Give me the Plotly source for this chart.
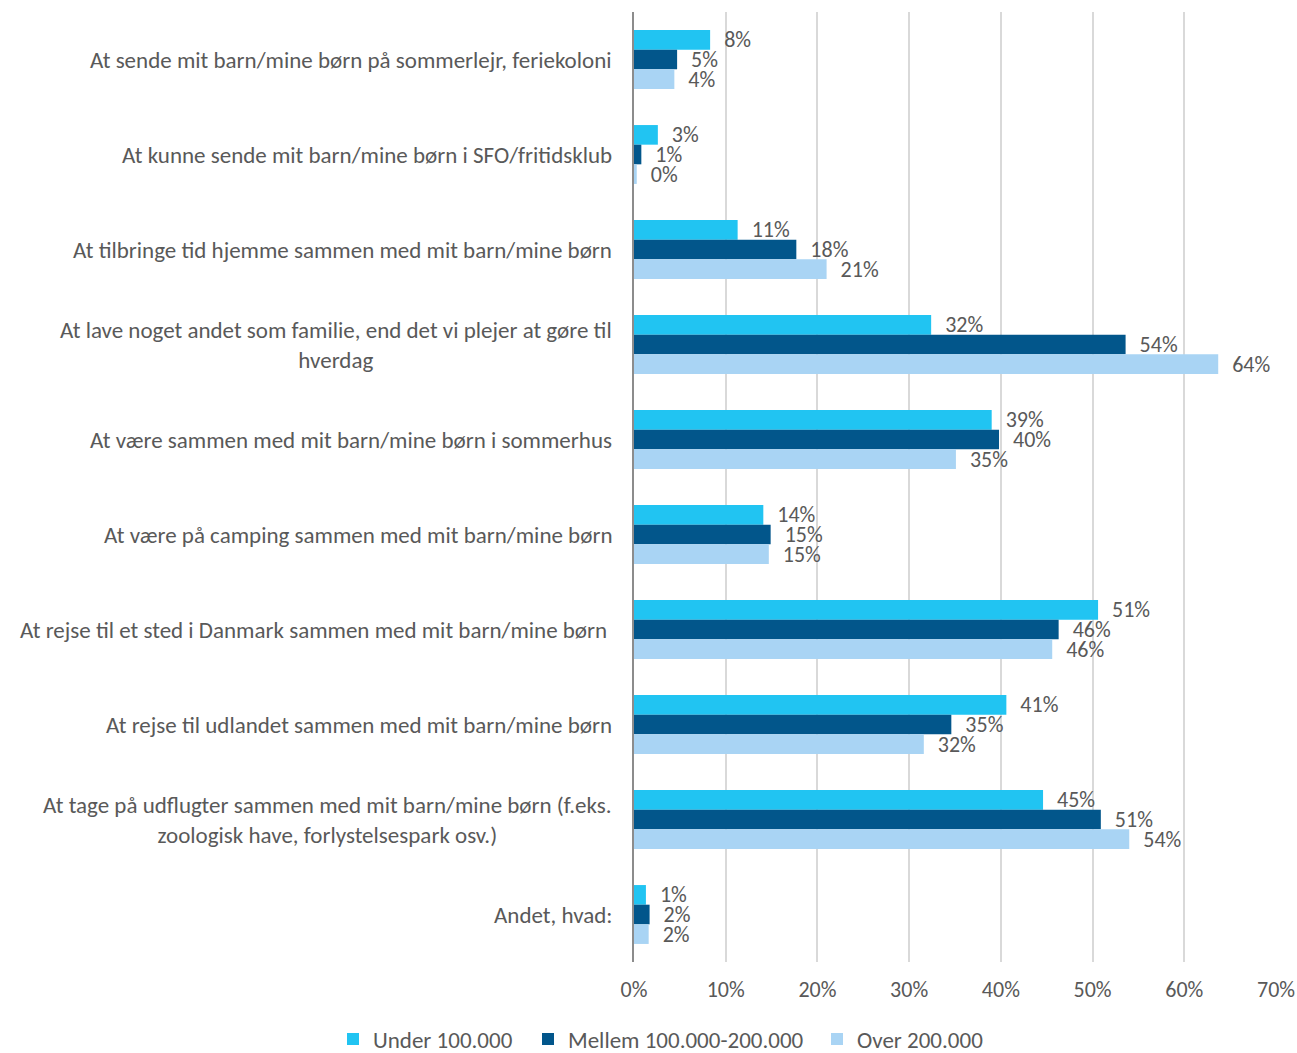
import plotly.graph_objects as go

categories = [
    "At sende mit barn/mine børn på sommerlejr, feriekoloni",
    "At kunne sende mit barn/mine børn i SFO/fritidsklub",
    "At tilbringe tid hjemme sammen med mit barn/mine børn",
    "At lave noget andet som familie, end det vi plejer at gøre til<br>hverdag",
    "At være sammen med mit barn/mine børn i sommerhus",
    "At være på camping sammen med mit barn/mine børn",
    "At rejse til et sted i Danmark sammen med mit barn/mine børn ",
    "At rejse til udlandet sammen med mit barn/mine børn",
    "At tage på udflugter sammen med mit barn/mine børn (f.eks.<br>zoologisk have, forlystelsespark osv.)",
    "Andet, hvad:",
]

series_names = ["Under 100.000", "Mellem 100.000-200.000", "Over 200.000"]
under_100 = [0.083, 0.026, 0.113, 0.324, 0.390, 0.141, 0.506, 0.406, 0.446, 0.013]
mellem_100_200 = [0.047, 0.008, 0.177, 0.536, 0.398, 0.149, 0.463, 0.346, 0.509, 0.017]
over_200 = [0.044, 0.003, 0.210, 0.637, 0.351, 0.147, 0.456, 0.316, 0.540, 0.016]
series_values = [under_100, mellem_100_200, over_200]
colors = ["#21C4F2", "#02568B", "#A9D4F4"]

x_ticks = [0, 0.1, 0.2, 0.3, 0.4, 0.5, 0.6, 0.7]

FONT = "Carlito, Lato, sans-serif"
TXT = "#595959"
FS_NUM = 22
FS_TXT = 23

W, H = 1297, 1053
legend_ids = ["legend", "legend2", "legend3"]
legend_left_px = [333, 528, 817]

fig = go.Figure()
for name, vals, col, lid in zip(series_names, series_values, colors, legend_ids):
    fig.add_trace(go.Bar(
        y=categories, x=vals, name=name, orientation="h",
        marker=dict(color=col, line=dict(width=0)),
        text=[f"{v:.0%}" for v in vals],
        texttemplate="\u2002%{text}",
        textposition="outside", cliponaxis=False, constraintext="none",
        textfont=dict(color=TXT, size=FS_NUM, family=FONT),
        legend=lid,
    ))

for cat in categories:
    fig.add_annotation(
        xref="paper", yref="y", x=0, y=cat, text=cat,
        xanchor="right", yanchor="middle", align="center",
        xshift=-20, showarrow=False,
        font=dict(color=TXT, size=FS_TXT, family=FONT),
    )

legend_y = (H - 1039) / H
legend_common = dict(orientation="h", xref="container", yref="container",
                     xanchor="left", yanchor="middle", y=legend_y,
                     font=dict(size=FS_TXT, color=TXT, family=FONT),
                     itemwidth=30, bgcolor="rgba(0,0,0,0)")

fig.update_layout(
    width=W, height=H,
    margin=dict(l=634, r=21, t=12, b=91, autoexpand=False),
    paper_bgcolor="white", plot_bgcolor="white",
    barmode="group", bargap=0.38, bargroupgap=0,
    font=dict(family=FONT, color=TXT, size=FS_TXT),
    showlegend=True,
    legend=dict(x=legend_left_px[0] / W, **legend_common),
    legend2=dict(x=legend_left_px[1] / W, **legend_common),
    legend3=dict(x=legend_left_px[2] / W, **legend_common),
    xaxis=dict(range=[0, 0.7], tickvals=x_ticks, tickformat=".0%",
               showgrid=True, gridcolor="#D9D9D9", gridwidth=2,
               zeroline=False, showline=False, ticks="", automargin=False,
               ticklabelstandoff=12,
               tickfont=dict(size=FS_NUM, color=TXT, family=FONT)),
    yaxis=dict(autorange="reversed", showticklabels=False, ticks="",
               showgrid=False, zeroline=False, automargin=False,
               showline=True, linecolor="#8C8C8C", linewidth=2),
)

fig.write_html(
    "out.html",
    config={"displayModeBar": False},
    post_script="document.body.style.margin='0';"
                "document.documentElement.style.overflow='hidden';"
                "document.body.style.overflow='hidden';",
)
